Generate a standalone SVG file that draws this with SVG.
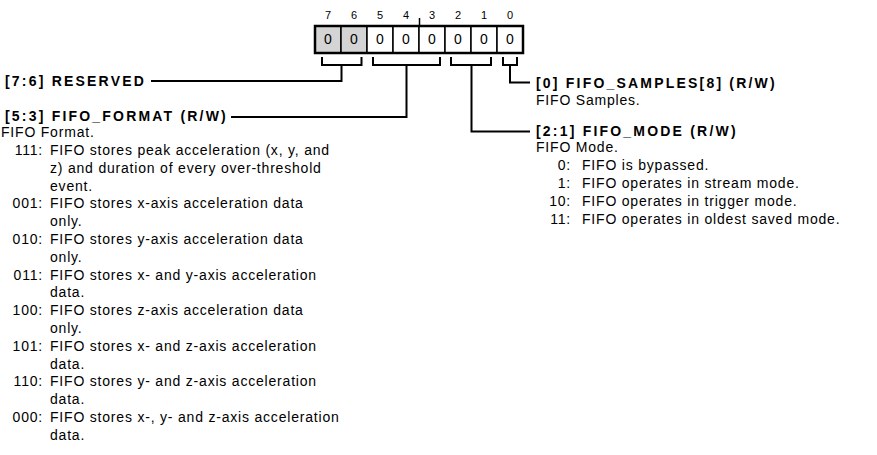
<svg xmlns="http://www.w3.org/2000/svg" width="877" height="455" viewBox="0 0 877 455">
<style>
text{font-family:"Liberation Sans",Arial,sans-serif;fill:#000}
.b{font-size:14px;font-weight:bold;letter-spacing:2.2px}
.r{font-size:14px;letter-spacing:0.8px}
.n{font-size:14px;letter-spacing:0.8px;text-anchor:end}
.bit{font-size:11px;text-anchor:middle}
.v{font-size:14px;text-anchor:middle}
.cell{fill:#fff;stroke:#000;stroke-width:1.5}
.res{fill:#d4d4d4}
.wire{fill:none;stroke:#000;stroke-width:2}
</style>
<rect width="877" height="455" fill="#fff"/>
<g id="register">
<rect class="cell res" x="315" y="26" width="26" height="27"/>
<rect class="cell res" x="341" y="26" width="26" height="27"/>
<rect class="cell" x="367" y="26" width="26" height="27"/>
<rect class="cell" x="393" y="26" width="26" height="27"/>
<rect class="cell" x="419" y="26" width="26" height="27"/>
<rect class="cell" x="445" y="26" width="26" height="27"/>
<rect class="cell" x="471" y="26" width="26" height="27"/>
<rect class="cell" x="497" y="26" width="26" height="27"/>
<rect x="315" y="26" width="208" height="27" fill="none" stroke="#000" stroke-width="2.5"/>
<line x1="419.5" y1="18" x2="419.5" y2="26" stroke="#000" stroke-width="1.5"/>
<text class="bit" x="328" y="19">7</text>
<text class="bit" x="354" y="19">6</text>
<text class="bit" x="380" y="19">5</text>
<text class="bit" x="406" y="19">4</text>
<text class="bit" x="432" y="19">3</text>
<text class="bit" x="458" y="19">2</text>
<text class="bit" x="484" y="19">1</text>
<text class="bit" x="510" y="19">0</text>
<text class="v" x="328" y="44">0</text>
<text class="v" x="354" y="44">0</text>
<text class="v" x="380" y="44">0</text>
<text class="v" x="406" y="44">0</text>
<text class="v" x="432" y="44">0</text>
<text class="v" x="458" y="44">0</text>
<text class="v" x="484" y="44">0</text>
<text class="v" x="510" y="44">0</text>
</g>
<g id="connectors">
<path class="wire" d="M322,57 V65 H361.5 V57 M341.5,65 V81 H151"/>
<path class="wire" d="M373,57 V65 H440 V57 M406.5,65 V117 H231"/>
<path class="wire" d="M451,57 V65 H491 V57 M471.5,65 V131.5 H530"/>
<path class="wire" d="M503,57 V65 H517 V57 M510,65 V82.5 H530"/>
</g>
<g id="reserved">
<text class="b" x="5" y="86">[7:6] RESERVED</text>
</g>
<g id="fifo_format">
<text class="b" x="5" y="121">[5:3] FIFO_FORMAT (R/W)</text>
<text class="r" x="1" y="137">FIFO Format.</text>
<text class="n" x="43" y="155">111:</text><text class="r" x="50" y="155">FIFO stores peak acceleration (x, y, and</text>
<text class="r" x="50" y="172.8">z) and duration of every over-threshold</text>
<text class="r" x="50" y="190.6">event.</text>
<text class="n" x="43" y="208.4">001:</text><text class="r" x="50" y="208.4">FIFO stores x-axis acceleration data</text>
<text class="r" x="50" y="226.2">only.</text>
<text class="n" x="43" y="244">010:</text><text class="r" x="50" y="244">FIFO stores y-axis acceleration data</text>
<text class="r" x="50" y="261.8">only.</text>
<text class="n" x="43" y="279.6">011:</text><text class="r" x="50" y="279.6">FIFO stores x- and y-axis acceleration</text>
<text class="r" x="50" y="297.4">data.</text>
<text class="n" x="43" y="315.2">100:</text><text class="r" x="50" y="315.2">FIFO stores z-axis acceleration data</text>
<text class="r" x="50" y="333">only.</text>
<text class="n" x="43" y="350.8">101:</text><text class="r" x="50" y="350.8">FIFO stores x- and z-axis acceleration</text>
<text class="r" x="50" y="368.6">data.</text>
<text class="n" x="43" y="386.4">110:</text><text class="r" x="50" y="386.4">FIFO stores y- and z-axis acceleration</text>
<text class="r" x="50" y="404.2">data.</text>
<text class="n" x="43" y="422">000:</text><text class="r" x="50" y="422">FIFO stores x-, y- and z-axis acceleration</text>
<text class="r" x="50" y="439.8">data.</text>
</g>
<g id="fifo_samples">
<text class="b" x="536" y="88">[0] FIFO_SAMPLES[8] (R/W)</text>
<text class="r" x="536" y="105">FIFO Samples.</text>
</g>
<g id="fifo_mode">
<text class="b" x="536" y="136">[2:1] FIFO_MODE (R/W)</text>
<text class="r" x="536" y="152">FIFO Mode.</text>
<text class="n" x="571" y="170">0:</text><text class="r" x="582" y="170">FIFO is bypassed.</text>
<text class="n" x="571" y="188">1:</text><text class="r" x="582" y="188">FIFO operates in stream mode.</text>
<text class="n" x="571" y="206">10:</text><text class="r" x="582" y="206">FIFO operates in trigger mode.</text>
<text class="n" x="571" y="224">11:</text><text class="r" x="582" y="224">FIFO operates in oldest saved mode.</text>
</g>
</svg>
